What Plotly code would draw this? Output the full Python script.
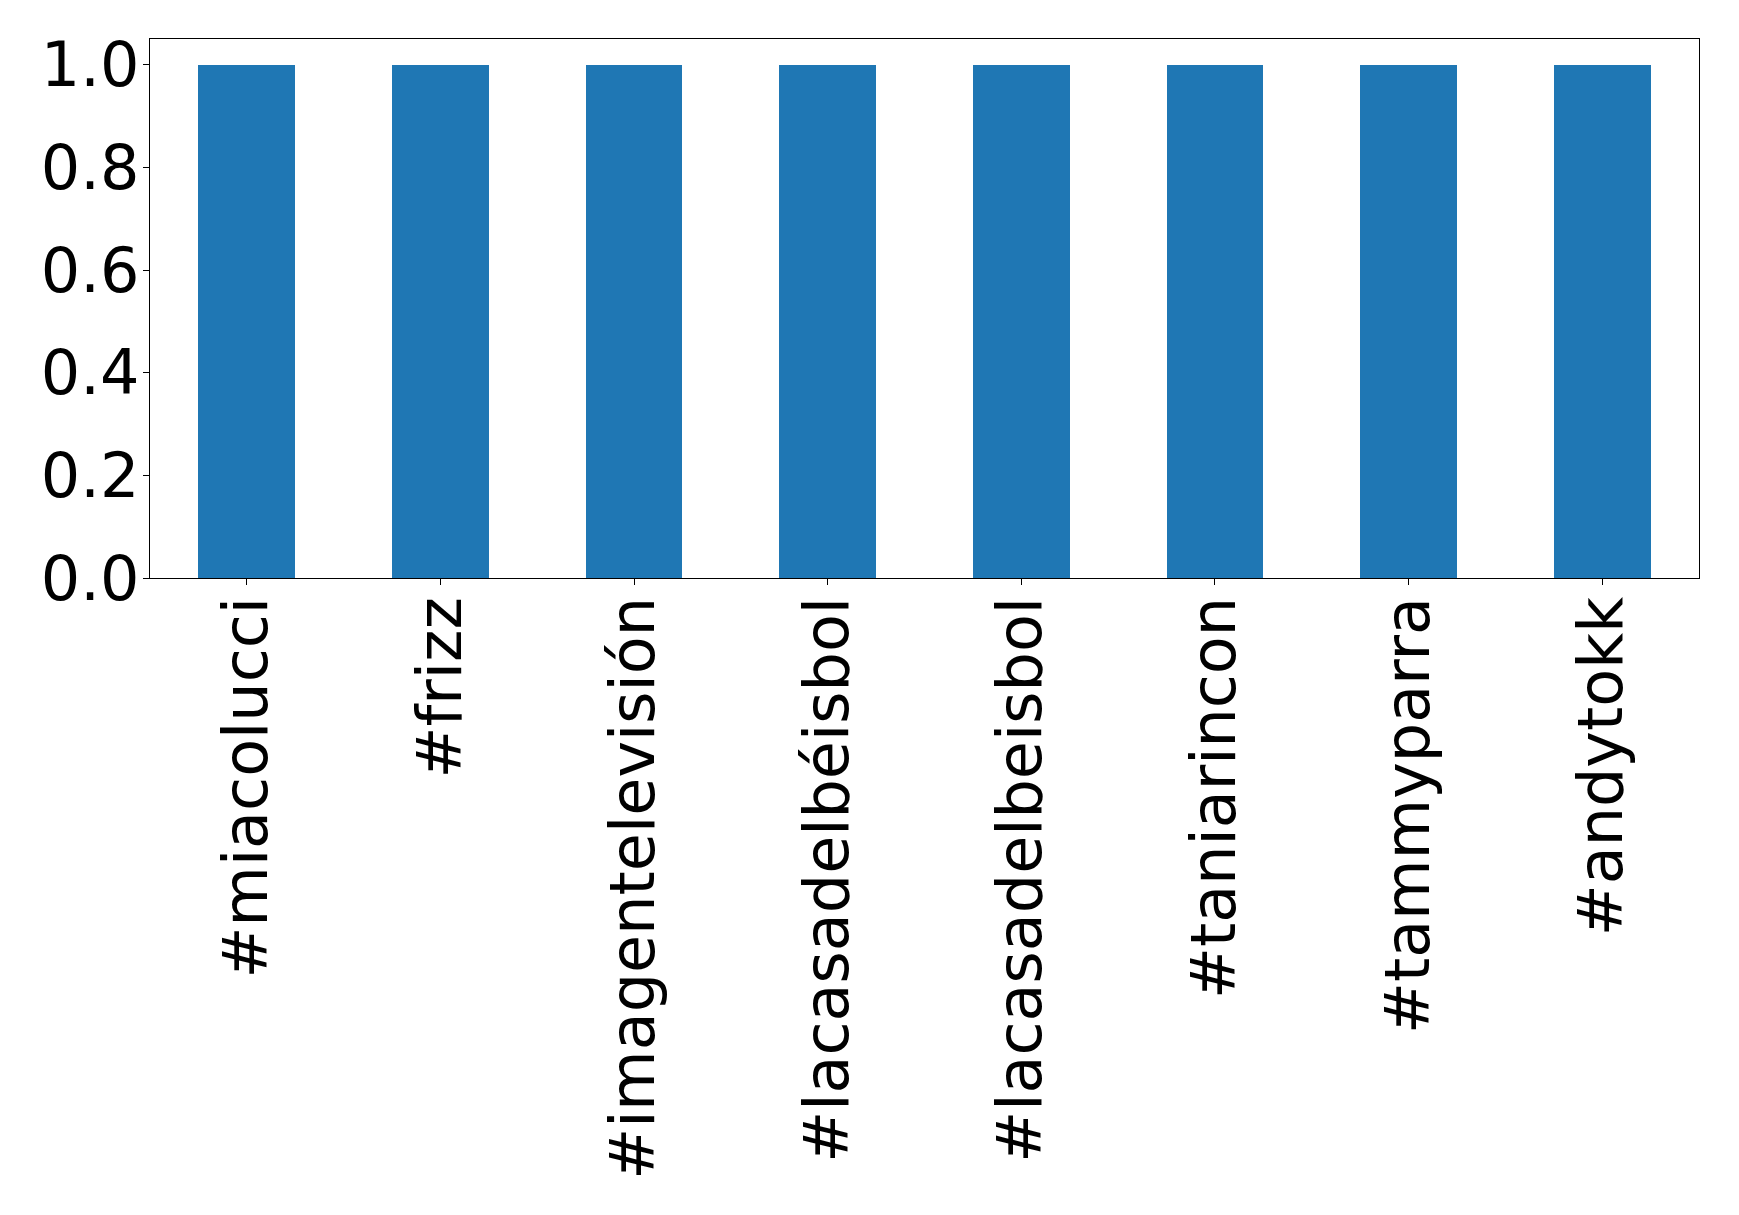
import plotly.graph_objects as go

categories = ["#miacolucci", "#frizz", "#imagentelevisión", "#lacasadelbéisbol",
              "#lacasadelbeisbol", "#taniarincon", "#tammyparra", "#andytokk"]
values = [1, 1, 1, 1, 1, 1, 1, 1]
y_ticks = [0.0, 0.2, 0.4, 0.6, 0.8, 1.0]

fig = go.Figure(go.Bar(x=categories, y=values, width=0.5,
                       marker=dict(color="#1f77b4", line=dict(width=0))))

W, H = 1739, 1215
fig.update_layout(
    width=W, height=H, autosize=False,
    margin=dict(l=150, r=40, t=39, b=637, pad=0),
    paper_bgcolor="white", plot_bgcolor="white",
    font=dict(family="DejaVu Sans", size=62, color="black"),
    showlegend=False,
    bargap=0,
)
fig.update_xaxes(
    type="category", range=[-0.5, 7.5], tickangle=-90,
    showline=True, linecolor="black", linewidth=1.3, mirror=True,
    ticks="outside", ticklen=6, tickwidth=1.3, tickcolor="black",
    showgrid=False, zeroline=False, tickfont=dict(size=62),
    ticklabelstandoff=-13,
)
fig.update_yaxes(
    range=[0, 1.05], tickvals=y_ticks, ticktext=[f"{v:.1f}" for v in y_ticks],
    showline=True, linecolor="black", linewidth=1.3, mirror=True,
    ticks="outside", ticklen=6, tickwidth=1.3, tickcolor="black",
    showgrid=False, zeroline=False, tickfont=dict(size=62),
    ticklabelstandoff=-9,
)
fig.write_html("out.html",
               config={"displayModeBar": False},
               post_script="document.body.style.margin='0';document.body.style.padding='0';")
